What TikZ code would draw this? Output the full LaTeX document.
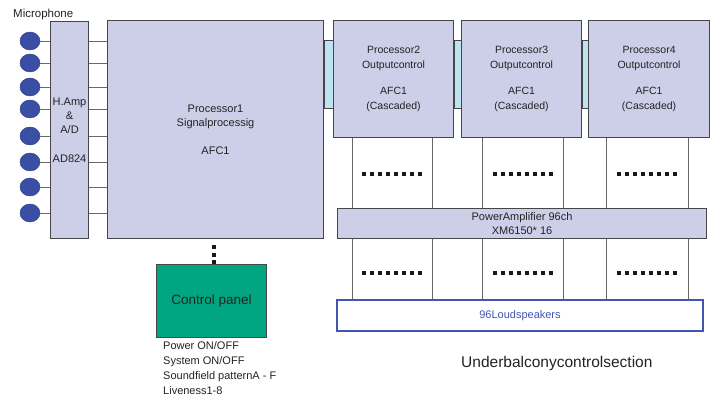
\documentclass[tikz,border=0pt]{standalone}
\usepackage{fontspec}
\setmainfont{Liberation Sans}
\usetikzlibrary{calc,shapes.geometric}

\definecolor{boxfill}{RGB}{205,207,233}
\definecolor{busfill}{RGB}{190,228,242}
\definecolor{micblue}{RGB}{58,78,165}
\definecolor{panelgreen}{RGB}{0,166,130}
\definecolor{spkblue}{RGB}{65,85,175}
\definecolor{edge}{RGB}{70,70,70}
\definecolor{wirecol}{RGB}{105,105,105}
\definecolor{ink}{RGB}{35,35,35}

\tikzset{
  blk/.style={draw=edge, line width=1.1pt, fill=boxfill, inner sep=0pt,
    anchor=north west, align=center, text=ink,
    font=\fontsize{11}{14}\selectfont},
  procbox/.style={blk, minimum width=120, minimum height=117,
    font=\fontsize{10.5}{15}\selectfont},
  mic/.style={ellipse, fill=micblue, draw=micblue!80!black, line width=0.4pt,
    minimum width=20, minimum height=18, inner sep=0pt},
  wire/.style={draw=wirecol, line width=0.8pt},
  bus/.style={draw=edge, line width=1pt, fill=busfill},
  dotrow/.style={draw=black!90, line width=4pt, dash pattern=on 4pt off 4pt},
  vdots/.style={draw=black!90, line width=4pt, dash pattern=on 4pt off 3.5pt},
  plain/.style={inner sep=0pt, text=ink, font=\fontsize{11}{15}\selectfont},
}

\begin{document}
\begin{tikzpicture}[x=1pt, y=-1pt]
\useasboundingbox (0,0) rectangle (717,398);

% input stage
\node[plain, anchor=west, font=\fontsize{11.5}{14}\selectfont] (miclabel) at (13,15) {Microphone};
\node[blk, minimum width=38, minimum height=217] (hamp) at (50,21)
  {H.Amp\\\&\\A/D\\[15pt]AD824};
\node[blk, minimum width=216, minimum height=218] (p1) at (107,20)
  {Processor1\\Signalprocessig\\[14pt]AFC1};

\foreach \i/\y in {1/41,2/63,3/87,4/109,5/136,6/162,7/187,8/213}{
  \node[mic] (m\i) at (30,\y) {};
  \draw[wire] (m\i.east) -- (m\i -| hamp.west);
  \draw[wire] (m\i -| hamp.east) -- (m\i -| p1.west);
}

% output processors
\node[procbox] (p2) at (333,20) {Processor2\\Outputcontrol\\[11pt]AFC1\\(Cascaded)};
\node[procbox] (p3) at (461,20) {Processor3\\Outputcontrol\\[11pt]AFC1\\(Cascaded)};
\node[procbox, minimum width=121] (p4) at (588,20) {Processor4\\Outputcontrol\\[11pt]AFC1\\(Cascaded)};

% cascade links
\draw[bus] ($(p1.north east)+(0,21)$) rectangle ($(p2.north west)+(0,89)$);
\draw[bus] ($(p2.north east)+(0,21)$) rectangle ($(p3.north west)+(0,89)$);
\draw[bus] ($(p3.north east)+(0,21)$) rectangle ($(p4.north west)+(0,89)$);

% amplifier and loudspeakers
\node[blk, minimum width=369, minimum height=30] (amp) at (337,208)
  {PowerAmplifier 96ch\\XM6150* 16};
\node[draw=spkblue, line width=2pt, fill=white, minimum width=366, minimum height=31,
  inner sep=0pt, anchor=north west, text=spkblue, font=\fontsize{11}{14}\selectfont]
  (spk) at (336,299) {96Loudspeakers};

% channel wires
\coordinate (a1) at ([xshift=19]p2.south west);
\coordinate (a2) at ([xshift=99]p2.south west);
\coordinate (b1) at ([xshift=21]p3.south west);
\coordinate (b2) at ([xshift=102]p3.south west);
\coordinate (c1) at ([xshift=18]p4.south west);
\coordinate (c2) at ([xshift=100]p4.south west);
\foreach \c in {a1,a2,b1,b2,c1,c2}{
  \draw[wire] (\c) -- (\c |- amp.north);
  \draw[wire] (\c |- amp.south) -- (\c |- spk.north);
}
\foreach \l/\r in {a1/a2,b1/b2,c1/c2}{
  \draw[dotrow] ($(\l)!.5!(\r |- amp.north)$) ++(-30,0.5) -- ++(60,0);
  \draw[dotrow] ($(\l |- amp.south)!.5!(\r |- spk.north)$) ++(-30,3.5) -- ++(60,0);
}

% control panel
\node[draw=edge, line width=1pt, fill=panelgreen, minimum width=110, minimum height=73,
  inner sep=0pt, anchor=north west, text=ink, font=\fontsize{13.5}{16}\selectfont]
  (panel) at (156,264) {Control panel};
\draw[vdots] ([xshift=2]panel.north) -- ++(0,-20);
\node[plain, anchor=north west, align=left] (ctl) at (163,341)
  {Power ON/OFF\\System ON/OFF\\Soundfield patternA - F\\Liveness1-8};

\node[plain, anchor=west, font=\fontsize{15.5}{18}\selectfont] (section) at (461,363)
  {Underbalconycontrolsection};
\end{tikzpicture}
\end{document}
